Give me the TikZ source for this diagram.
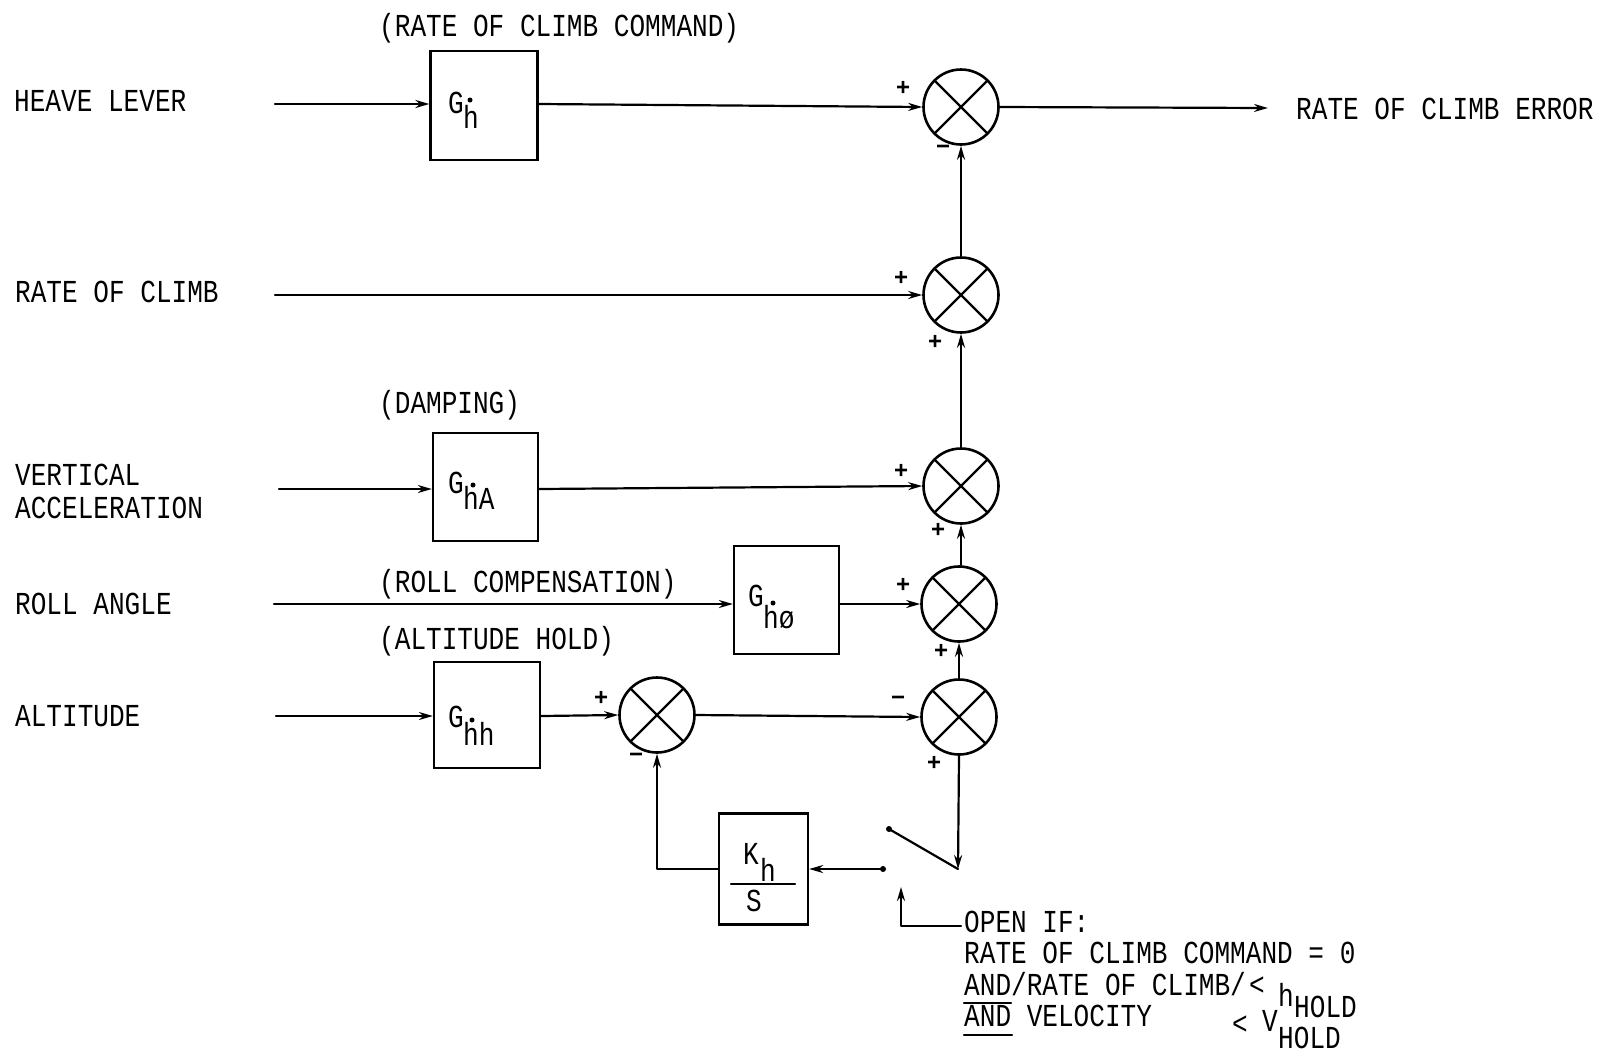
\documentclass[tikz,border=0pt]{standalone}
\usepackage{fontspec}
\usetikzlibrary{arrows.meta}
\newfontfamily\typ[FakeStretch=0.815]{Liberation Mono}
\newfontfamily\signf{Liberation Sans}
\tikzset{
  every picture/.style={x=1pt,y=-1pt},
  ln/.style={line width=2.2pt,line cap=round,line join=round},
  arr/.style={ln,-{Stealth[length=14pt,width=8pt]}},
  blockbox/.style={draw,line width=2.3pt,inner sep=0pt},
  sumj/.style={draw,circle,line width=2.6pt,minimum size=75pt,inner sep=0pt,
    path picture={
      \draw[line width=2.4pt] (path picture bounding box.north west)--(path picture bounding box.south east);
      \draw[line width=2.4pt] (path picture bounding box.south west)--(path picture bounding box.north east);}},
  lbl/.style={anchor=base west,inner sep=0pt,font=\typ\fontsize{32pt}{34pt}\selectfont},
  sgn/.style={inner sep=0pt,font=\signf\bfseries\fontsize{24pt}{24pt}\selectfont},
}
\begin{document}
\begin{tikzpicture}
\useasboundingbox (0,0) rectangle (1603,1053);
% input / output labels
\node[lbl] (l1) at (14,111) {HEAVE LEVER};
\node[lbl] (l2) at (15,302) {RATE OF CLIMB};
\node[lbl] (l3a) at (15,485) {VERTICAL};
\node[lbl] (l3b) at (15,518) {ACCELERATION};
\node[lbl] (l4) at (15,614) {ROLL ANGLE};
\node[lbl] (l5) at (15,726) {ALTITUDE};
\node[lbl] (lout) at (1296,119) {RATE OF CLIMB ERROR};
\node[lbl] (c1) at (379,36) {(RATE OF CLIMB COMMAND)};
\node[lbl] (c3) at (379,413) {(DAMPING)};
\node[lbl] (c4) at (379,592) {(ROLL COMPENSATION)};
\node[lbl] (c5) at (379,649) {(ALTITUDE HOLD)};
% blocks
\node[blockbox,minimum width=107pt,minimum height=109pt] (b1) at (484,105.5) {};
\node[blockbox,minimum width=105pt,minimum height=108pt] (b3) at (485.5,487) {};
\node[blockbox,minimum width=105pt,minimum height=108pt] (b4) at (786.5,600) {};
\node[blockbox,minimum width=106pt,minimum height=106pt] (b5) at (487,715) {};
\node[blockbox,minimum width=89pt,minimum height=111pt] (bk) at (763.5,869) {};
% block texts
\node[lbl] (g1) at (448,113) {G};
\node[lbl] (h1) at (463,128) {h};
\fill (470,100) circle (2.5pt);
\node[lbl] (g3) at (448,493) {G};
\node[lbl] (h3) at (463,509) {hA};
\fill (473,485) circle (2.5pt);
\node[lbl] (g4) at (748,606) {G};
\node[lbl] (h4) at (763,628) {h\char"00F8};
\fill (773,603) circle (2.5pt);
\node[lbl] (g5) at (448,727) {G};
\node[lbl] (h5) at (463,745) {hh};
\fill (472,720) circle (2.5pt);
\node[lbl] (k1) at (743,864) {K};
\node[lbl] (k2) at (760,881) {h};
\node[lbl] (k3) at (746,911) {S};
\draw[ln] (731,884) -- (795,884);
% summing junctions
\node[sumj] (s1) at (961,107) {};
\node[sumj] (s2) at (961,295) {};
\node[sumj] (s3) at (961,486) {};
\node[sumj] (s4) at (959,604) {};
\node[sumj] (s5) at (959,717) {};
\node[sumj] (s6) at (657,715) {};
% signs
\node[sgn] (p1) at (903,88) {+};
\node[sgn] (m1) at (943,150) {\char"2212};
\node[sgn] (p2a) at (901,278) {+};
\node[sgn] (p2b) at (935,342) {+};
\node[sgn] (p3a) at (901,471) {+};
\node[sgn] (p3b) at (938,530) {+};
\node[sgn] (p4a) at (903,585) {+};
\node[sgn] (p4b) at (941,651) {+};
\node[sgn] (m5) at (898,701) {\char"2212};
\node[sgn] (p5) at (934,763) {+};
\node[sgn] (p6) at (601,698) {+};
\node[sgn] (m6) at (636,758) {\char"2212};
% free ends
\coordinate (i1) at (275,104);
\coordinate (i2) at (275,295);
\coordinate (i3) at (279,489);
\coordinate (i4) at (274,604);
\coordinate (i5) at (276,716);
\coordinate (o1) at (1268,108);
\coordinate (pivot) at (958,869);
\coordinate (lever) at (889,829);
\coordinate (contact) at (883,869);
\coordinate (cmdtip) at (901,887);
\coordinate (cmdcorner) at (901,926);
\coordinate (cmdend) at (961,926);
% connectors
\draw[arr] (i1) -- (i1 -| b1.west);
\draw[arr] (i1 -| b1.east) -- (s1.west);
\draw[arr] (s1.east) -- (o1);
\draw[arr] (i2) -- (s2.west);
\draw[arr] (i3) -- (i3 -| b3.west);
\draw[arr] (i3 -| b3.east) -- (s3.west);
\draw[arr] (i4) -- (i4 -| b4.west);
\draw[arr] (i4 -| b4.east) -- (s4.west);
\draw[arr] (i5) -- (i5 -| b5.west);
\draw[arr] (i5 -| b5.east) -- (s6.west);
\draw[arr] (s6.east) -- (s5.west);
\draw[arr] (s2.north) -- (s1.south);
\draw[arr] (s3.north) -- (s2.south);
\draw[arr] (s3.south |- s4.north) -- (s3.south);
\draw[arr] (s5.north) -- (s4.south);
\draw[arr] (s5.south) -- (pivot);
\draw[ln] (pivot) -- (lever);
\fill (lever) circle (3pt);
\fill (contact) circle (3pt);
\draw[arr] (contact) -- (bk.east |- contact);
\draw[arr] (bk.west) -| (s6.south);
\draw[arr] (cmdend) -- (cmdcorner) -- (cmdtip);
% note
\node[lbl] (n1) at (964,932) {OPEN IF:};
\node[lbl] (n2) at (964,963) {RATE OF CLIMB COMMAND = 0};
\node[lbl] (n3) at (964,995) {AND/RATE OF CLIMB/};
\node[lbl] (n3b) at (1249,995) {<};
\node[lbl] (n3c) at (1278,1006) {h};
\node[lbl] (n3d) at (1294,1017) {HOLD};
\node[lbl] (n4) at (964,1026) {AND VELOCITY};
\node[lbl] (n4b) at (1232,1034) {<};
\node[lbl] (n4c) at (1262,1031) {V};
\node[lbl] (n4d) at (1278,1048) {HOLD};
\draw[ln] (964,1003) -- (1011,1003);
\draw[ln] (964,1035) -- (1012,1035);
\end{tikzpicture}
\end{document}
